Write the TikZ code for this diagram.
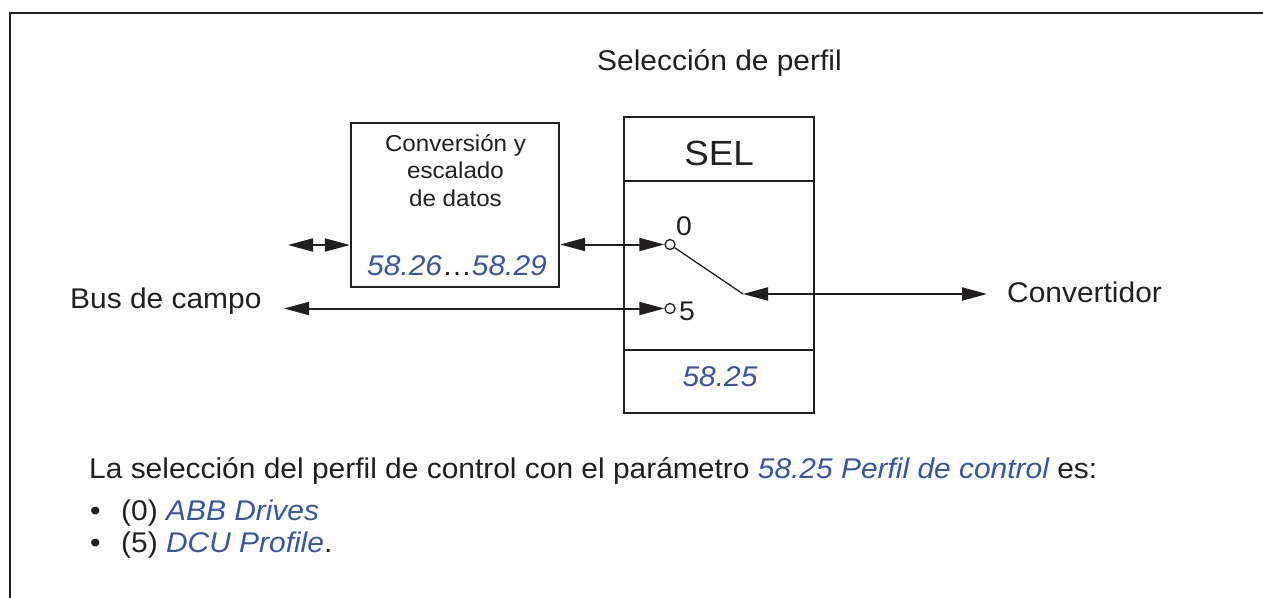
\documentclass[tikz,border=0pt]{standalone}
\usepackage{fontspec}
\setmainfont{Liberation Sans}[FakeStretch=1.05]
\usetikzlibrary{arrows.meta}
\definecolor{ink}{RGB}{35,31,32}
\definecolor{abbblue}{RGB}{55,85,165}
\begin{document}
\begin{tikzpicture}[x=1pt,y=-1pt,line join=miter,
  frame/.style={draw=ink,line width=2.4pt},
  boxx/.style={draw=ink,line width=2.3pt,rectangle,inner sep=0pt},
  conn/.style={draw=ink,line width=2pt,{Triangle[length=25pt,width=13pt]}-{Triangle[length=25pt,width=13pt]}},
  lever/.style={draw=ink,line width=1.3pt},
  contact/.style={circle,draw=ink,line width=1.3pt,minimum size=10pt,inner sep=0pt,fill=white},
  txt/.style={inner sep=0pt,text=ink,font=\fontsize{28.5}{34}\selectfont},
  smalltxt/.style={inner sep=0pt,text=ink,font=\fontsize{23}{27}\selectfont},
  numtxt/.style={inner sep=0pt,text=ink,font=\fontsize{27}{32}\selectfont},
  seltxt/.style={inner sep=0pt,text=ink,font=\fontsize{35}{40}\selectfont}
]
\useasboundingbox (0,0) rectangle (1263,597);
\fill[white] (0,0) rectangle (1263,597);
% outer frame (open to the right and bottom)
\draw[frame] (10,600) -- (10,13) -- (1266,13);

% boxes
\node[boxx,minimum width=208pt,minimum height=164pt] (conv) at (455,205) {};
\node[boxx,minimum width=190pt,minimum height=296pt] (sel) at (719,265) {};
\draw[ink,line width=2.3pt] (sel.west |- 0,181) -- (sel.east |- 0,181);
\draw[ink,line width=2.3pt] (sel.west |- 0,350) -- (sel.east |- 0,350);

% texts
\node[txt,anchor=base] (title) at (719.5,70) {Selección de perfil};
\node[seltxt,anchor=base] (seltitle) at (719,165) {SEL};
\node[txt,anchor=base] (selpar) at (720,386.5) {\color{abbblue}\itshape 58.25};
\node[smalltxt,anchor=base] (cv1) at (455.5,151.7) {Conversión y};
\node[smalltxt,anchor=base] (cv2) at (455.5,178.5) {escalado};
\node[smalltxt,anchor=base] (cv3) at (455.5,206.5) {de datos};
\node[txt,anchor=base] (cvpar) at (457,275) {{\color{abbblue}\itshape 58.26}…{\color{abbblue}\itshape 58.29}};
\node[txt,anchor=base west] (bus) at (70,308) {Bus de campo};
\node[txt,anchor=base west] (drive) at (1007,302) {Convertidor};

% switch
\node[contact] (c0) at (670,244.5) {};
\node[contact] (c5) at (670,308.5) {};
\node[numtxt,anchor=base west] (l0) at (676,235) {0};
\node[numtxt,anchor=base west] (l5) at (679,320) {5};
\coordinate (pivot) at (743,294);
\coordinate (cvfree) at (987,294);
\coordinate (lfree) at (288,245);
\coordinate (bfree) at (284,308.5);
\draw[lever] (c0) -- (pivot);

% connectors
\draw[conn] (lfree) -- (lfree -| conv.west);
\draw[conn] (conv.east |- c0) -- (c0);
\draw[conn] (bfree) -- (c5);
\draw[conn] (pivot) -- (cvfree);

% explanation text
\node[txt,anchor=base west] (expl) at (89,478) {La selección del perfil de control con el parámetro {\color{abbblue}\itshape 58.25 Perfil de control} es:};
\node[txt,anchor=base west] (b1) at (90,520) {\makebox[31pt][l]{•}(0) {\color{abbblue}\itshape ABB Drives}};
\node[txt,anchor=base west] (b2) at (90,552) {\makebox[31pt][l]{•}(5) {\color{abbblue}\itshape DCU Profile}.};
\end{tikzpicture}
\end{document}
